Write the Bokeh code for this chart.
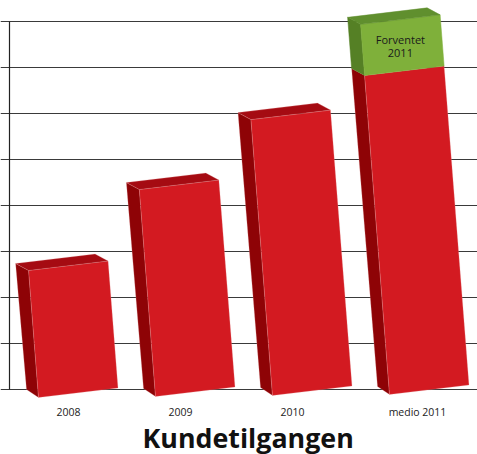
from bokeh.plotting import figure
from bokeh.embed import file_html
from bokeh.resources import INLINE
from bokeh.models import Range1d, FixedTicker, Title, ColumnDataSource
from bokeh.core.properties import value

categories = ["2008", "2009", "2010", "medio 2011"]
actual = [2.74, 4.50, 6.02, 6.98]
forecast = [0, 0, 0, 1.11]
grid_ticks = [0, 1, 2, 3, 4, 5, 6, 7, 8]
label_pos = [68, 180, 292, 417]
forecast_label = ["Forventet", "2011"]

# page-pixel layout constants
W, H = 477, 454
FRAME_B = 398
Y0, UNIT = 389.0, 46.0
BASE_X, STEP, BAR_W, TILT, LEAN = 38, 117, 79.5, 9.5, 0.078
DX, DY = 13, 7


def u(px):
    return px / UNIT


def lean_x(i, v):
    h = 397 - i - (Y0 - v * UNIT + DY)
    return BASE_X + i * STEP - LEAN * h


def face(i, v0, v1):
    """front face between value v0 and v1 (v0=None: ground)"""
    fy1 = v1 - u(DY)
    xl1 = lean_x(i, v1)
    if v0 is None:
        xl0, fy0 = BASE_X + i * STEP, u(Y0 - 397 + i)
    else:
        xl0, fy0 = lean_x(i, v0), v0 - u(DY)
    return ([xl0, xl1, xl1 + BAR_W, xl0 + BAR_W],
            [fy0, fy1, fy1 + u(TILT), fy0 + u(TILT)])


def side(i, v0, v1):
    x, y = face(i, v0, v1)
    xb0 = x[0] - (12 if v0 is None else DX)
    yb0 = y[0] + u(8 if v0 is None else DY)
    return ([x[0], x[1], x[1] - DX, xb0], [y[0], y[1], y[1] + u(DY), yb0])


def top(i, v):
    x, y = face(i, v, v)
    return ([x[1], x[1] - DX, x[2] - DX, x[2]],
            [y[1], y[1] + u(DY), y[2] + u(DY), y[2]])


p = figure(width=W, height=H, frame_width=W, frame_height=FRAME_B,
           output_backend="svg", toolbar_location=None,
           x_range=Range1d(0, W),
           y_range=Range1d(u(Y0 - FRAME_B), u(Y0)),
           min_border=0, outline_line_color=None, background_fill_color="white")
p.min_border_left = 0
p.min_border_right = 0
p.min_border_top = 0
p.min_border_bottom = H - FRAME_B
p.xgrid.visible = False
p.ygrid.ticker = FixedTicker(ticks=grid_ticks)
p.ygrid.grid_line_color = "#3a3a3a"
p.ygrid.grid_line_width = 1.2
p.ygrid.bounds = (9, W)

p.xaxis.ticker = FixedTicker(ticks=label_pos)
p.xaxis.major_label_overrides = dict(zip(label_pos, categories))
p.xaxis.axis_line_color = None
p.xaxis.major_tick_line_color = None
p.xaxis.minor_tick_line_color = None
p.xaxis.major_label_text_font = "Open Sans"
p.xaxis.major_label_text_font_size = "10.5px"
p.xaxis.major_label_text_color = "#222222"
p.xaxis.major_label_standoff = 0

p.yaxis.visible = False
p.line(x=[9, 9], y=[grid_ticks[0], grid_ticks[-1]], line_color="#222222", line_width=1.2)


def draw(faces, color):
    s = ColumnDataSource(dict(xs=[f[0] for f in faces], ys=[f[1] for f in faces]))
    p.patches("xs", "ys", source=s, fill_color=color, line_color="#e9a0a0",
              line_alpha=0.4, line_width=0.6)


n = len(categories)
draw([side(i, None, actual[i]) for i in range(n)], "#8e0306")
draw([face(i, None, actual[i]) for i in range(n)], "#d31a21")
draw([top(i, actual[i]) for i in range(n) if forecast[i] == 0], "#a50b12")

fi = [i for i in range(n) if forecast[i] > 0]
s_g = [side(i, actual[i], actual[i] + forecast[i]) for i in fi]
f_g = [face(i, actual[i], actual[i] + forecast[i]) for i in fi]
t_g = [top(i, actual[i] + forecast[i]) for i in fi]
for faces, col in ((s_g, "#558025"), (f_g, "#7fb03a"), (t_g, "#608f2e")):
    ss = ColumnDataSource(dict(xs=[f[0] for f in faces], ys=[f[1] for f in faces]))
    p.patches("xs", "ys", source=ss, fill_color=col, line_color=col, line_width=0.5)

cx = sum(f_g[0][0]) / 4 - 2
cy = sum(f_g[0][1]) / 4
p.text(x=[cx, cx], y=[cy + u(6), cy - u(8)], text=forecast_label,
       text_font=value("Open Sans"), text_font_size="11px", text_color="#1a1a1a",
       text_align="center", text_baseline="middle")

t = Title(text="Kundetilgangen", align="left", text_font="Open Sans",
          text_font_size="26.8px", text_font_style="bold", text_color="#111111",
          standoff=-9, offset=142)
p.add_layout(t, "below")

open("out.html", "w").write(file_html(p, INLINE))
